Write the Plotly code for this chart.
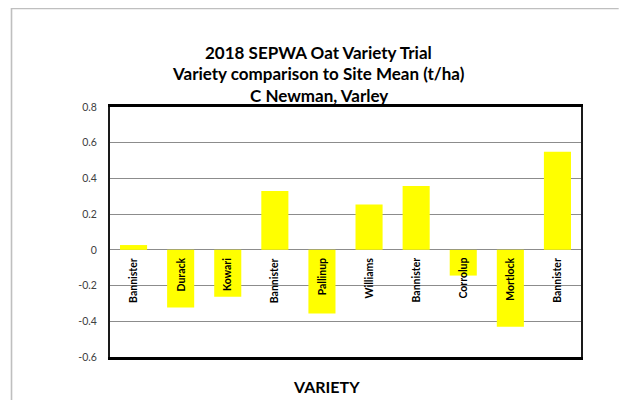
import plotly.graph_objects as go

varieties = ["Bannister", "Durack", "Kowari", "Bannister", "Pallinup",
             "Williams", "Bannister", "Corrolup", "Mortlock", "Bannister"]
values = [0.027, -0.323, -0.263, 0.33, -0.357, 0.254, 0.357, -0.144, -0.43, 0.549]
y_ticks = [-0.6, -0.4, -0.2, 0, 0.2, 0.4, 0.6, 0.8]
title_lines = ["2018 SEPWA Oat Variety Trial",
               "Variety comparison to Site Mean (t/ha)",
               "C Newman, Varley"]

positions = list(range(len(varieties)))
font_family = "Lato, Liberation Sans, sans-serif"

fig = go.Figure()
fig.add_trace(go.Bar(
    x=positions, y=values,
    marker=dict(color="#FFFF00", line=dict(width=0)),
    width=0.575,
    hoverinfo="skip",
))

for p, name in zip(positions, varieties):
    fig.add_annotation(
        x=p, y=0, xref="x", yref="y",
        text="<b>" + name + "</b>", textangle=-90,
        yanchor="top", xanchor="center", yshift=-6,
        showarrow=False,
        font=dict(family=font_family, size=10.5, color="#000000"),
    )

# chart title, one annotation per line for exact line spacing
for i, line in enumerate(title_lines):
    fig.add_annotation(
        x=0.4427, y=1.219 - i * 0.0865, xref="paper", yref="paper",
        text="<b>" + line + "</b>", showarrow=False,
        xanchor="center", yanchor="middle",
        font=dict(family=font_family, size=17, color="#000000"),
    )

fig.add_annotation(
    x=0.4586, y=-0.116, xref="paper", yref="paper",
    text="<b>VARIETY</b>", showarrow=False,
    xanchor="center", yanchor="middle",
    font=dict(family=font_family, size=16, color="#000000"),
)

# outer chart-area border (left and top edges only are visible)
fig.add_shape(type="line", xref="paper", yref="paper",
              x0=-0.2091, y0=-0.172, x1=-0.2091, y1=1.396,
              line=dict(color="#BFBFBF", width=1.6), layer="below")
fig.add_shape(type="line", xref="paper", yref="paper",
              x0=-0.2091, y0=1.394, x1=1.08, y1=1.394,
              line=dict(color="#BFBFBF", width=1.6), layer="below")

fig.update_layout(
    width=611, height=392,
    margin=dict(l=102, r=38, t=99, b=43),
    paper_bgcolor="white", plot_bgcolor="white",
    showlegend=False,
    xaxis=dict(
        range=[-0.5, len(varieties) - 0.5],
        showticklabels=False, ticks="", showgrid=False, zeroline=False,
        showline=True, linecolor="black", linewidth=2.5, mirror=True,
    ),
    yaxis=dict(
        range=[-0.6, 0.8], tickvals=y_ticks,
        ticktext=[str(v) for v in y_ticks],
        showgrid=True, gridcolor="#8C8C8C", gridwidth=1,
        zeroline=True, zerolinecolor="#8C8C8C", zerolinewidth=1,
        showline=True, linecolor="#1a1a1a", linewidth=2, mirror=True,
        ticks="", ticklabelstandoff=9,
        tickfont=dict(family=font_family, size=10.5, color="#404040"),
    ),
)

fig.write_html("out.html")
